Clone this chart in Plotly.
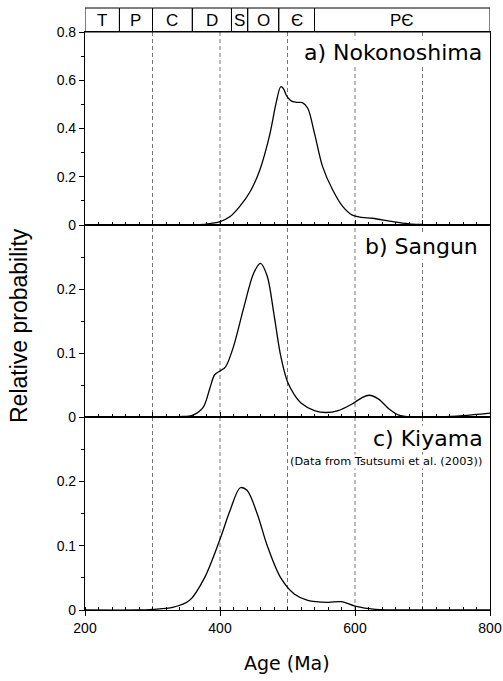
import plotly.graph_objects as go

# ---------------- data ----------------
ages_a = [200, 300, 350, 360, 380, 400, 415, 429, 445, 459, 473, 483, 490, 494, 498, 503,
          508, 515, 522, 530, 540, 552, 567, 582, 596, 610, 626, 656, 680, 700, 720, 800]
vals_a = [0, 0, 0, 0.001, 0.004, 0.014, 0.035, 0.076, 0.14, 0.228, 0.366, 0.504, 0.573, 0.565,
          0.539, 0.52, 0.511, 0.508, 0.507, 0.484, 0.38, 0.242, 0.145, 0.076, 0.041, 0.032,
          0.028, 0.014, 0.005, 0.002, 0, 0]

ages_b = [200, 300, 340, 360, 375, 385, 392, 400, 408, 420, 435, 450, 460, 470, 480, 490, 500,
          510, 520, 540, 557, 575, 595, 610, 621, 635, 650, 665, 680, 700, 730, 760, 800]
vals_b = [0, 0, 0.0005, 0.003, 0.015, 0.045, 0.066, 0.072, 0.078, 0.11, 0.17, 0.225, 0.24,
          0.22, 0.16, 0.095, 0.055, 0.035, 0.022, 0.01, 0.007, 0.01, 0.02, 0.03, 0.034, 0.028,
          0.013, 0.003, 0.0005, 0, 0, 0.002, 0.006]

ages_c = [200, 280, 300, 330, 355, 377, 400, 415, 430, 440, 455, 470, 490, 510, 530, 560,
          580, 600, 630, 700, 800]
vals_c = [0, 0, 0.001, 0.004, 0.015, 0.05, 0.11, 0.155, 0.19, 0.186, 0.15, 0.1, 0.05, 0.025,
          0.015, 0.012, 0.013, 0.006, 0.001, 0, 0]

period_bounds = [200, 251, 300, 359, 417, 441, 487, 540, 800]
period_labels = ["T", "P", "C", "D", "S", "O", "Є", "PЄ"]

panel_labels = ["a) Nokonoshima", "b) Sangun", "c) Kiyama"]
note_text = "(Data from Tsutsumi et al. (2003))"
dashed_ages = [300, 400, 500, 600, 700]

# ---------------- layout geometry ----------------
W, H = 503, 681
L, R, T, B = 85, 13, 8, 71
ph = H - T - B
def py(ypx):
    return (H - B - ypx) / ph
def px(xpx):
    return (xpx - L) / (W - L - R)

dom_c = [0, py(417)]
dom_b = [py(417), py(225)]
dom_a = [py(225), py(32)]
band = [py(32), py(8)]

fig = go.Figure()
line = dict(color="black", width=1.3, shape="spline", smoothing=0.9)
fig.add_trace(go.Scatter(x=ages_a, y=vals_a, xaxis="x", yaxis="y", mode="lines", line=line,
                         hoverinfo="skip"))
fig.add_trace(go.Scatter(x=ages_b, y=vals_b, xaxis="x2", yaxis="y2", mode="lines", line=line,
                         hoverinfo="skip"))
fig.add_trace(go.Scatter(x=ages_c, y=vals_c, xaxis="x3", yaxis="y3", mode="lines", line=line,
                         hoverinfo="skip"))

tickfont = dict(family="Liberation Sans, Arial", size=14, color="black")

def xax(anchor, labels):
    return dict(range=[200, 800], anchor=anchor, showline=True, mirror=True, linecolor="black",
                linewidth=1.2, showgrid=False, zeroline=False, automargin=False,
                tickmode="linear", tick0=200, dtick=200 if labels else 100,
                ticks="outside" if labels else "inside", ticklen=5, tickcolor="black",
                showticklabels=labels, tickfont=tickfont,
                minor=dict(dtick=20, tick0=200, ticks="inside", ticklen=3, tickcolor="black"))

def yax(anchor, dom, rng, tv, mdt):
    return dict(range=rng, domain=dom, anchor=anchor, showline=True, mirror=True,
                linecolor="black", linewidth=1.2, showgrid=False, zeroline=False,
                automargin=False,
                tickmode="array", tickvals=tv, ticktext=[("%g" % v) for v in tv],
                ticks="outside", ticklen=5, tickcolor="black", tickfont=tickfont,
                minor=dict(tick0=0, dtick=mdt, ticks="outside", ticklen=3, tickcolor="black"))

shapes = []
for a in dashed_ages:
    shapes.append(dict(type="line", xref="x3", yref="paper", x0=a, x1=a, y0=0, y1=dom_a[1],
                       line=dict(color="#777777", width=1, dash="4px,3px"), layer="below"))
for i in range(len(period_labels)):
    shapes.append(dict(type="rect", xref="x3", yref="paper", x0=period_bounds[i],
                       x1=period_bounds[i + 1], y0=band[0], y1=band[1],
                       line=dict(color="black", width=1)))

annotations = []
for i, lab in enumerate(period_labels):
    annotations.append(dict(x=(period_bounds[i] + period_bounds[i + 1]) / 2, xref="x3",
                            y=(band[0] + band[1]) / 2, yref="paper", text=lab, showarrow=False,
                            font=dict(family="Liberation Sans, Arial", size=17, color="black"),
                            xanchor="center", yanchor="middle"))

lf = "DejaVu Sans"
label_pos = [(483, 52), (479, 246), (484, 438)]
for lab, (xp, ypx) in zip(panel_labels, label_pos):
    annotations.append(dict(x=px(xp), xref="paper", y=py(ypx), yref="paper",
                            text=lab, showarrow=False, xanchor="right", yanchor="middle",
                            bgcolor="white", borderpad=0,
                            font=dict(family=lf, size=22, color="black")))
annotations.append(dict(x=px(483), xref="paper", y=py(461), yref="paper",
                        text=note_text, showarrow=False, xanchor="right", yanchor="middle",
                        bgcolor="white", borderpad=0,
                        font=dict(family=lf, size=11.3, color="black")))
annotations.append(dict(x=px(287), xref="paper", y=py(663), yref="paper",
                        text="Age (Ma)", showarrow=False, xanchor="center", yanchor="middle",
                        font=dict(family=lf, size=19, color="black")))
annotations.append(dict(x=px(19), xref="paper", y=py(326), yref="paper",
                        text="Relative probability", showarrow=False, textangle=-90,
                        xanchor="center", yanchor="middle",
                        font=dict(family="Liberation Sans, Arial", size=23, color="black")))

fig.update_layout(
    width=W, height=H, margin=dict(l=L, r=R, t=T, b=B, autoexpand=False),
    paper_bgcolor="white", plot_bgcolor="white", showlegend=False,
    xaxis=xax("y", False), xaxis2=xax("y2", False), xaxis3=xax("y3", True),
    yaxis=yax("x", dom_a, [0, 0.8], [0, 0.2, 0.4, 0.6, 0.8], 0.1),
    yaxis2=yax("x2", dom_b, [0, 0.3], [0, 0.1, 0.2], 0.05),
    yaxis3=yax("x3", dom_c, [0, 0.3], [0, 0.1, 0.2], 0.05),
    shapes=shapes, annotations=annotations,
)

fig.write_html("out.html", config={"displayModeBar": False},
               post_script="document.body.style.margin='0';document.body.style.padding='0';"
                           "document.documentElement.style.overflow='hidden';")
